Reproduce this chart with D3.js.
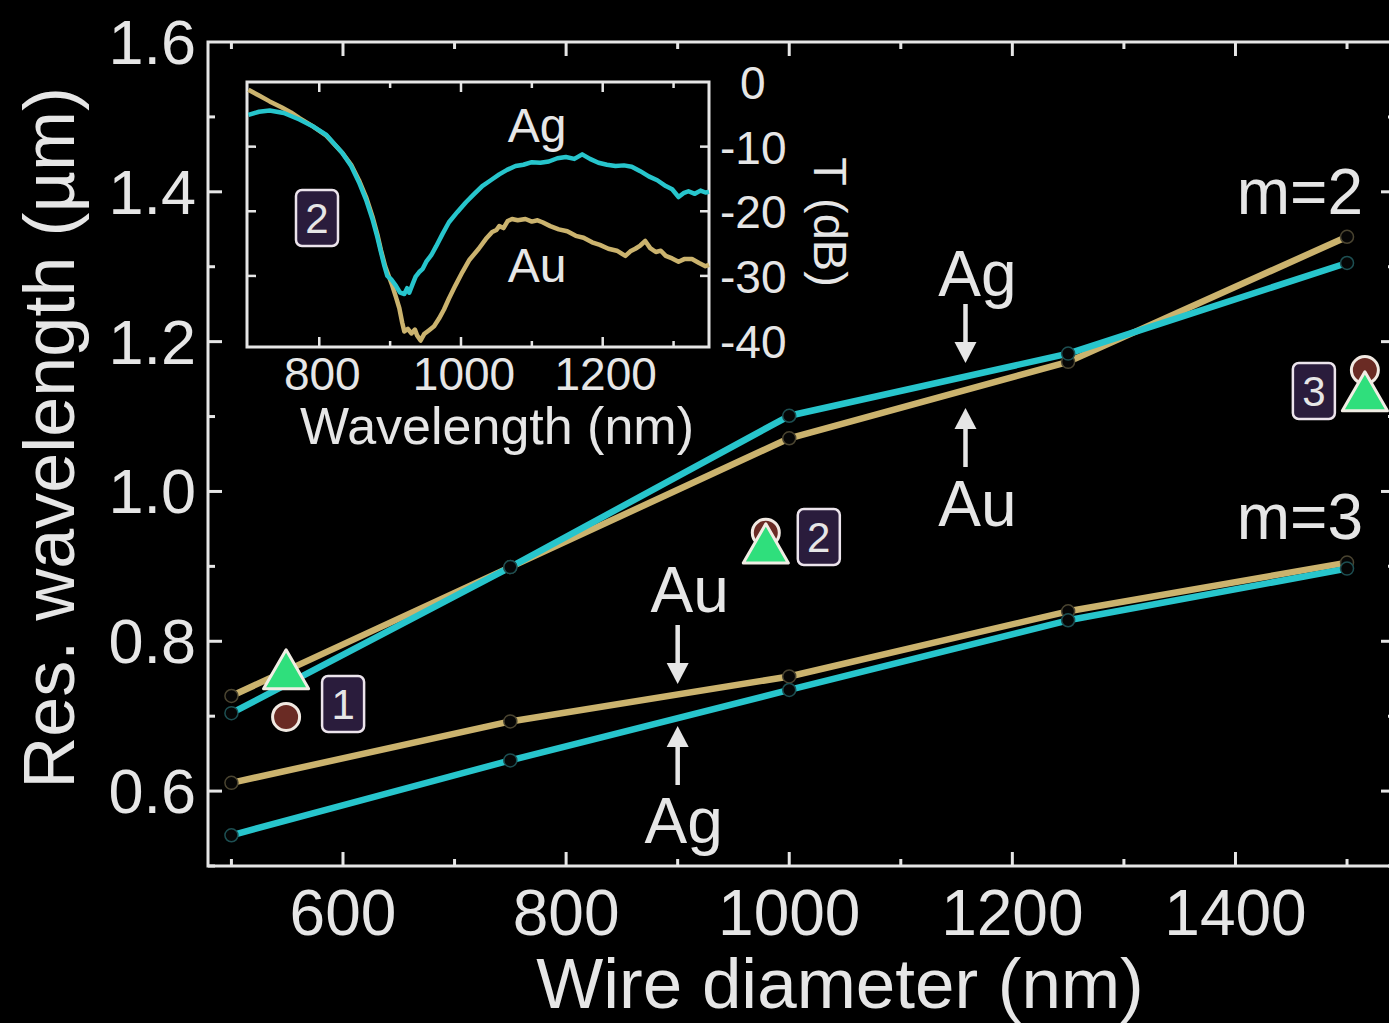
<!DOCTYPE html>
<html>
<head>
<meta charset="utf-8">
<script src="https://cdn.jsdelivr.net/npm/d3@7"></script>
<style>
body { margin: 0; background: #000; }
svg text { font-family: "Liberation Sans", Arial, sans-serif; fill: #e6e6e6; }
</style>
</head>
<body>
<svg id="chart" width="1389" height="1023"></svg>
<script>

// main panel: resonance wavelength (um) vs wire diameter (nm)
var diameter = [500, 750, 1000, 1250, 1500]
var m2Au = [0.727, 0.899, 1.071, 1.173, 1.340]
var m2Ag = [0.704, 0.899, 1.101, 1.184, 1.305]
var m3Au = [0.611, 0.693, 0.753, 0.840, 0.905]
var m3Ag = [0.541, 0.641, 0.735, 0.828, 0.897]

// measured points (circle / triangle) with their sample number
var expDiameter = [549, 979, 1516]
var expCircle = [0.699, 0.945, 1.162]
var expTriangle = [0.754, 0.922, 1.125]
var expLabel = ["1", "2", "3"]

var xTicks = [600, 800, 1000, 1200, 1400]
var yTicks = [0.6, 0.8, 1.0, 1.2, 1.4, 1.6]

// inset: transmission spectra (dB) of sample 2
var agWl = [700, 715, 730, 750, 772, 790, 810, 832, 845, 856, 866, 875, 882, 887, 892, 896, 902, 908, 914, 920, 924, 927, 932, 936, 941, 946, 951, 958, 965, 974, 983, 995, 1007, 1018, 1030, 1042, 1054, 1065, 1077, 1088, 1100, 1112, 1124, 1136, 1148, 1160, 1171, 1182, 1194, 1206, 1218, 1230, 1241, 1253, 1265, 1277, 1289, 1298, 1307, 1314, 1321, 1330, 1338, 1345, 1350]
var agT = [-5.1, -4.6, -4.4, -4.8, -5.8, -6.8, -8.2, -10.9, -13.0, -15.5, -18.2, -21.2, -24.0, -26.3, -28.5, -30.0, -30.6, -31.5, -32.6, -32.8, -31.9, -32.6, -31.2, -30.1, -29.4, -28.9, -27.8, -26.8, -25.4, -23.5, -21.7, -20.1, -18.6, -17.4, -16.1, -15.2, -14.3, -13.6, -13.0, -12.8, -12.4, -12.5, -12.3, -11.8, -11.6, -11.9, -11.2, -11.9, -12.5, -12.8, -13.0, -12.9, -13.1, -13.8, -14.6, -15.2, -16.1, -16.6, -17.8, -17.2, -16.9, -17.3, -16.8, -17.1, -17.0]

var auWl = [700, 715, 730, 748, 760, 772, 790, 810, 832, 845, 856, 866, 875, 882, 887, 893, 898, 903, 908, 913, 917, 920, 925, 930, 935, 938, 943, 948, 955, 962, 969, 976, 983, 992, 1002, 1012, 1025, 1035, 1044, 1050, 1054, 1060, 1066, 1072, 1080, 1091, 1100, 1108, 1115, 1126, 1138, 1150, 1162, 1173, 1185, 1196, 1208, 1220, 1232, 1239, 1246, 1253, 1260, 1267, 1275, 1282, 1289, 1298, 1307, 1315, 1326, 1336, 1345, 1350]
var auT = [-1.2, -2.1, -3.0, -4.0, -4.7, -5.6, -6.8, -8.3, -10.9, -12.8, -15.2, -17.8, -20.8, -23.6, -26.0, -28.5, -30.0, -31.5, -33.2, -35.0, -37.2, -38.6, -38.2, -38.9, -38.3, -39.2, -40.0, -39.0, -38.4, -37.8, -36.6, -35.2, -33.5, -31.5, -29.4, -27.5, -25.8, -24.3, -23.2, -22.9, -22.3, -22.6, -21.5, -21.2, -21.4, -21.2, -21.6, -21.4, -21.7, -22.3, -22.8, -23.1, -23.8, -24.1, -24.8, -25.2, -25.8, -26.1, -26.9, -26.2, -25.8, -25.3, -24.6, -25.7, -26.3, -26.1, -26.9, -27.3, -27.8, -27.4, -27.4, -28.0, -28.5, -28.3]

var insetXTicks = [800, 1000, 1200]
var insetYTicks = [0, -10, -20, -30, -40]

var gold = "#cbb36e"
var cyan = "#27c5cc"
var ink = "#e6e6e6"

var svg = d3.select("#chart")

svg.append("rect")
    .attr("width", 1389)
    .attr("height", 1023)
    .attr("fill", "#000")

var x = d3.scaleLinear().domain([479, 1543]).range([208, 1395])
var y = d3.scaleLinear().domain([0.5, 1.6]).range([866, 42])

var main = svg.append("g")

main.append("rect")
    .attr("x", x.range()[0])
    .attr("y", y.range()[1])
    .attr("width", x.range()[1] - x.range()[0])
    .attr("height", y.range()[0] - y.range()[1])
    .attr("fill", "none")
    .attr("stroke", ink)
    .attr("stroke-width", 3)

// inward ticks on all four sides
var xMinor = d3.range(500, 1501, 100)
var yMinor = d3.range(0.5, 1.55, 0.1)

main.append("g").selectAll("line")
    .data(xMinor)
    .enter().append("line")
    .attr("x1", function(d) { return x(d) })
    .attr("x2", function(d) { return x(d) })
    .attr("y1", y.range()[0])
    .attr("y2", function(d) { return y.range()[0] - (d % 200 == 0 ? 14 : 7) })
    .attr("stroke", ink).attr("stroke-width", 3)

main.append("g").selectAll("line")
    .data(xMinor)
    .enter().append("line")
    .attr("x1", function(d) { return x(d) })
    .attr("x2", function(d) { return x(d) })
    .attr("y1", y.range()[1])
    .attr("y2", function(d) { return y.range()[1] + (d % 200 == 0 ? 14 : 7) })
    .attr("stroke", ink).attr("stroke-width", 3)

main.append("g").selectAll("line")
    .data(yMinor)
    .enter().append("line")
    .attr("x1", x.range()[0])
    .attr("x2", function(d, i) { return x.range()[0] + (i % 2 == 1 ? 14 : 7) })
    .attr("y1", function(d) { return y(d) })
    .attr("y2", function(d) { return y(d) })
    .attr("stroke", ink).attr("stroke-width", 3)

main.append("g").selectAll("line")
    .data(yMinor)
    .enter().append("line")
    .attr("x1", x.range()[1])
    .attr("x2", function(d, i) { return x.range()[1] - (i % 2 == 1 ? 14 : 7) })
    .attr("y1", function(d) { return y(d) })
    .attr("y2", function(d) { return y(d) })
    .attr("stroke", ink).attr("stroke-width", 3)

main.append("g").selectAll("text")
    .data(xTicks)
    .enter().append("text")
    .attr("x", function(d) { return x(d) })
    .attr("y", 935)
    .attr("text-anchor", "middle")
    .attr("font-size", "64px")
    .text(function(d) { return d })

main.append("g").selectAll("text")
    .data(yTicks)
    .enter().append("text")
    .attr("x", 196)
    .attr("y", function(d) { return y(d) + 22 })
    .attr("text-anchor", "end")
    .attr("font-size", "63px")
    .text(function(d) { return d.toFixed(1) })

main.append("text")
    .attr("x", 840)
    .attr("y", 1008)
    .attr("text-anchor", "middle")
    .attr("font-size", "71px")
    .text("Wire diameter (nm)")

main.append("text")
    .attr("transform", "translate(74, 438) rotate(-90)")
    .attr("text-anchor", "middle")
    .attr("font-size", "72px")
    .text("Res. wavelength (\u00b5m)")

// simulated curves
var line = d3.line()
    .x(function(d) { return x(d[0]) })
    .y(function(d) { return y(d[1]) })

var series = [
    { v: m2Au, c: gold, s: "#4a4430" },
    { v: m3Au, c: gold, s: "#4a4430" },
    { v: m2Ag, c: cyan, s: "#1d4f52" },
    { v: m3Ag, c: cyan, s: "#1d4f52" }
]

series.forEach(function(s) {
    var pts = d3.zip(diameter, s.v)
    main.append("path")
        .datum(pts)
        .attr("d", line)
        .attr("fill", "none")
        .attr("stroke", s.c)
        .attr("stroke-width", 6.5)
        .attr("stroke-linejoin", "round")
})

series.forEach(function(s) {
    var pts = d3.zip(diameter, s.v)
    main.append("g").selectAll("circle")
        .data(pts)
        .enter().append("circle")
        .attr("cx", function(d) { return x(d[0]) })
        .attr("cy", function(d) { return y(d[1]) })
        .attr("r", 6.5)
        .attr("fill", "#050505")
        .attr("stroke", s.s)
        .attr("stroke-width", 1.5)
})

// m labels
main.append("text")
    .attr("x", 1363).attr("y", 214)
    .attr("text-anchor", "end")
    .attr("font-size", "64px")
    .text("m=2")

main.append("text")
    .attr("x", 1363).attr("y", 539)
    .attr("text-anchor", "end")
    .attr("font-size", "64px")
    .text("m=3")

// Ag / Au arrows
function arrow(ax, tipY, dir) {
    // dir 1 = pointing down, -1 = pointing up
    var head = 21, shaft = 38
    var base = tipY - dir * head
    main.append("line")
        .attr("x1", ax).attr("x2", ax)
        .attr("y1", base).attr("y2", base - dir * shaft)
        .attr("stroke", ink).attr("stroke-width", 4.5)
    main.append("path")
        .attr("d", "M" + ax + "," + tipY + "L" + (ax - 11) + "," + base + "L" + (ax + 11) + "," + base + "Z")
        .attr("fill", ink)
}

function tag(tx, ty, t) {
    main.append("text")
        .attr("x", tx).attr("y", ty)
        .attr("text-anchor", "middle")
        .attr("font-size", "64px")
        .text(t)
}

arrow(x(900), 684, 1)
arrow(x(900), 726, -1)
tag(x(900) + 12, 612, "Au")
tag(x(900) + 6, 843, "Ag")

arrow(x(1158), 363, 1)
arrow(x(1158), 408, -1)
tag(x(1158) + 12, 296, "Ag")
tag(x(1158) + 12, 526, "Au")

// measured points
var tri = d3.symbol().type(d3.symbolTriangle).size(880)

function box(bx, by, t) {
    var g = svg.append("g").attr("transform", "translate(" + bx + "," + by + ")")
    g.append("rect")
        .attr("width", 42).attr("height", 56)
        .attr("rx", 6)
        .attr("fill", "#2a1c3c")
        .attr("stroke", "#ece4ec")
        .attr("stroke-width", 2.5)
    g.append("text")
        .attr("x", 21).attr("y", 43)
        .attr("text-anchor", "middle")
        .attr("font-size", "42px")
        .text(t)
}

var expData = d3.range(expLabel.length).map(function(i) {
    return { d: expDiameter[i], c: expCircle[i], t: expTriangle[i], label: expLabel[i] }
})

svg.append("g").selectAll("circle")
    .data(expData)
    .enter().append("circle")
    .attr("cx", function(d) { return x(d.d) })
    .attr("cy", function(d) { return y(d.c) })
    .attr("r", 13.5)
    .attr("fill", "#6a2b24")
    .attr("stroke", "#f1e9e2")
    .attr("stroke-width", 3)

svg.append("g").selectAll("path")
    .data(expData)
    .enter().append("path")
    .attr("d", tri)
    .attr("transform", function(d) { return "translate(" + x(d.d) + "," + y(d.t) + ")" })
    .attr("fill", "#2fdf7c")
    .attr("stroke", "#f1ede4")
    .attr("stroke-width", 3)
    .attr("stroke-linejoin", "round")

box(x(expDiameter[0]) + 36, 676, "1")
box(x(expDiameter[1]) + 32, 509, "2")
box(x(expDiameter[2]) - 72, 363, "3")

// inset
var ix = d3.scaleLinear().domain([698, 1350]).range([247, 709])
var iy = d3.scaleLinear().domain([-41, 0]).range([347, 82])

var inset = svg.append("g")

inset.append("rect")
    .attr("x", 247).attr("y", 82)
    .attr("width", 462).attr("height", 265)
    .attr("fill", "#000")
    .attr("stroke", ink)
    .attr("stroke-width", 3)

var iline = d3.line()
    .x(function(d) { return ix(d[0]) })
    .y(function(d) { return iy(d[1]) })

inset.append("path")
    .datum(d3.zip(auWl, auT))
    .attr("d", iline)
    .attr("fill", "none")
    .attr("stroke", gold)
    .attr("stroke-width", 4.5)
    .attr("stroke-linejoin", "round")

inset.append("path")
    .datum(d3.zip(agWl, agT))
    .attr("d", iline)
    .attr("fill", "none")
    .attr("stroke", cyan)
    .attr("stroke-width", 4.5)
    .attr("stroke-linejoin", "round")

var ixTicks = d3.range(800, 1301, 100)
inset.append("g").selectAll("line")
    .data(ixTicks)
    .enter().append("line")
    .attr("x1", function(d) { return ix(d) }).attr("x2", function(d) { return ix(d) })
    .attr("y1", 347).attr("y2", function(d) { return 347 - (d % 200 == 0 ? 10 : 6) })
    .attr("stroke", ink).attr("stroke-width", 2.5)

inset.append("g").selectAll("line")
    .data(ixTicks)
    .enter().append("line")
    .attr("x1", function(d) { return ix(d) }).attr("x2", function(d) { return ix(d) })
    .attr("y1", 82).attr("y2", function(d) { return 82 + (d % 200 == 0 ? 10 : 6) })
    .attr("stroke", ink).attr("stroke-width", 2.5)

inset.append("g").selectAll("line")
    .data([-10, -20, -30])
    .enter().append("line")
    .attr("x1", 247).attr("x2", 256)
    .attr("y1", function(d) { return iy(d) }).attr("y2", function(d) { return iy(d) })
    .attr("stroke", ink).attr("stroke-width", 2.5)

inset.append("g").selectAll("line")
    .data([-10, -20, -30])
    .enter().append("line")
    .attr("x1", 709).attr("x2", 700)
    .attr("y1", function(d) { return iy(d) }).attr("y2", function(d) { return iy(d) })
    .attr("stroke", ink).attr("stroke-width", 2.5)

inset.append("g").selectAll("text")
    .data(insetXTicks)
    .enter().append("text")
    .attr("x", function(d) { return ix(d) + 3 })
    .attr("y", 390)
    .attr("text-anchor", "middle")
    .attr("font-size", "46px")
    .text(function(d) { return d })

inset.append("g").selectAll("text")
    .data(insetYTicks)
    .enter().append("text")
    .attr("x", function(d) { return d < 0 ? 720 : 740 })
    .attr("y", function(d) { return iy(d) + 17 })
    .attr("font-size", "46px")
    .text(function(d) { return d })

inset.append("text")
    .attr("x", 497).attr("y", 444)
    .attr("text-anchor", "middle")
    .attr("font-size", "52px")
    .text("Wavelength (nm)")

inset.append("text")
    .attr("transform", "translate(814, 222) rotate(90)")
    .attr("text-anchor", "middle")
    .attr("font-size", "47px")
    .text("T (dB)")

inset.append("text")
    .attr("x", 537).attr("y", 142)
    .attr("text-anchor", "middle")
    .attr("font-size", "48px")
    .text("Ag")

inset.append("text")
    .attr("x", 537).attr("y", 282)
    .attr("text-anchor", "middle")
    .attr("font-size", "48px")
    .text("Au")

box(296, 190, "2")

</script>
</body>
</html>
